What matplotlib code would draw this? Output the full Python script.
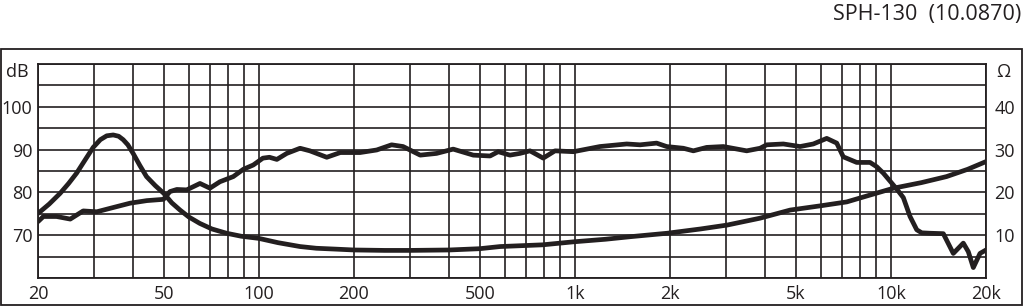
import matplotlib
matplotlib.use("Agg")
import matplotlib.pyplot as plt
from matplotlib.patches import Rectangle

# ---------- data ----------
spl_freq = [20, 20.8, 22.9, 25.3, 27.8, 30.7, 33.8, 39.1, 44.2, 49.9, 52.3, 55, 59.1,
            65.1, 70, 75.3, 83, 89.3, 96, 103, 108, 114, 122.5, 135, 145, 164, 181,
            209, 236, 263, 286, 324, 365, 412, 477, 539, 572, 623, 670, 721, 794,
            865, 989, 1200, 1459, 1608, 1814, 1952, 2204, 2371, 2612, 2950, 3497,
            3854, 4046, 4568, 5158, 5682, 6266, 6740, 7070, 7796, 8590, 9018, 9465,
            10436, 10950, 11498, 12074, 12522, 13302, 14654, 15758, 16950, 17580,
            18232, 19144, 20000]
spl_db = [73.2, 74.4, 74.4, 73.8, 75.7, 75.5, 76.3, 77.5, 78.1, 78.4, 80.2, 80.7, 80.6,
          82.1, 81.0, 82.5, 83.7, 85.4, 86.4, 88.0, 88.2, 87.7, 89.1, 90.3, 89.7, 88.2, 89.3,
          89.3, 89.9, 91.1, 90.7, 88.7, 89.1, 90.1, 88.7, 88.5, 89.5, 88.7, 89.1, 89.7, 88.0,
          89.7, 89.5, 90.7, 91.3, 91.1, 91.5, 90.7, 90.3, 89.7, 90.5, 90.7, 89.7,
          90.3, 91.1, 91.3, 90.7, 91.3, 92.6, 91.5, 88.3, 87.0, 87.0, 86.0, 84.5,
          80.8, 78.8, 74.4, 71.3, 70.6, 70.5, 70.4, 65.8, 68.2, 66.2,
          62.5, 65.8, 66.6]

imp_freq = [20, 21.7, 23.5, 25, 26.5, 28.2, 29.9, 31.5, 33, 34.6, 36, 37.2, 38.5, 40, 42,
            44.1, 47, 50, 53, 56.3, 60, 65, 71, 79, 88, 100, 115, 135, 152, 175,
            200, 250, 300, 400, 500, 580, 790, 990, 1250, 1500, 1960, 2500, 3030, 3850,
            4800, 6000, 7250, 8500, 10200, 12500, 15000, 17500, 20000]
imp_ohm = [15.1, 17.3, 19.8, 22.1, 24.5, 27.6, 30.5, 32.3, 33.2, 33.4, 33.1, 32.3, 31.1, 29.1, 26.3,
           23.7, 21.6, 19.8, 17.6, 15.9, 14.3, 12.8, 11.5, 10.5, 9.8, 9.3, 8.3, 7.4, 7.0, 6.8,
           6.6, 6.5, 6.5, 6.6, 6.9, 7.4, 7.8, 8.5, 9.1, 9.7, 10.5, 11.5, 12.4, 14.0,
           15.9, 16.9, 17.8, 19.3, 21.0, 22.3, 23.7, 25.4, 27.2]

grid_freqs = [20, 30, 40, 50, 60, 70, 80, 90, 100, 200, 300, 400, 500, 600, 700, 800, 900,
              1000, 2000, 3000, 4000, 5000, 6000, 7000, 8000, 9000, 10000, 20000]
freq_labels = {20: "20", 50: "50", 100: "100", 200: "200", 500: "500", 1000: "1k",
               2000: "2k", 5000: "5k", 10000: "10k", 20000: "20k"}
db_labels = {70: "70", 80: "80", 90: "90", 100: "100"}
ohm_labels = {10: "10", 20: "20", 30: "30", 40: "40"}
title = "SPH-130  (10.0870)"

ink = "#231f20"
plt.rcParams["font.family"] = ["Open Sans", "DejaVu Sans"]
plt.rcParams["text.color"] = ink

fig = plt.figure(figsize=(10.24, 3.06), dpi=100)
ax = fig.add_axes([0.0371, 0.0905, 0.9258, 0.7013])
ax.set_xscale("log")
ax.set_xlim(20, 20000)
ax.set_ylim(60, 110)
ax.minorticks_off()
ax.set_xticks(grid_freqs)
ax.set_xticklabels([freq_labels.get(f, "") for f in grid_freqs])
db_ticks = list(range(60, 111, 5))
ax.set_yticks(db_ticks)
ax.set_yticklabels([db_labels.get(v, "") for v in db_ticks])
ax.tick_params(length=0, labelsize=13, colors=ink, pad=4)
ax.tick_params(axis="x", pad=5)
ax.grid(True, color=ink, lw=1.2)
for s in ax.spines.values():
    s.set_color(ink)
    s.set_linewidth(1.3)

ax.plot(spl_freq, spl_db, color=ink, lw=3.4, solid_joinstyle="round",
        solid_capstyle="round", zorder=5)

ax2 = ax.twinx()
ax2.set_ylim(0, 50)
ohm_ticks = list(range(0, 51, 5))
ax2.set_yticks(ohm_ticks)
ax2.set_yticklabels([ohm_labels.get(v, "") for v in ohm_ticks])
ax2.tick_params(length=0, labelsize=13, colors=ink, pad=6)
for s in ax2.spines.values():
    s.set_visible(False)
ax2.plot(imp_freq, imp_ohm, color=ink, lw=3.4, solid_joinstyle="round",
         solid_capstyle="round", zorder=5)

ax.text(-0.010, 108, "dB", transform=ax.get_yaxis_transform(), ha="right",
        va="center", fontsize=13, color=ink)
ax2.text(1.011, 108 - 60, "Ω", transform=ax2.get_yaxis_transform(), ha="left",
         va="center", fontsize=13, color=ink)

fig.text(0.997, 0.952, title, ha="right", va="center", fontsize=15.5, color=ink)
fig.add_artist(Rectangle((0.001, 0.004), 0.9968, 0.835, transform=fig.transFigure,
                         fill=False, edgecolor=ink, lw=1.3))

fig.savefig("out.png", dpi=100)
